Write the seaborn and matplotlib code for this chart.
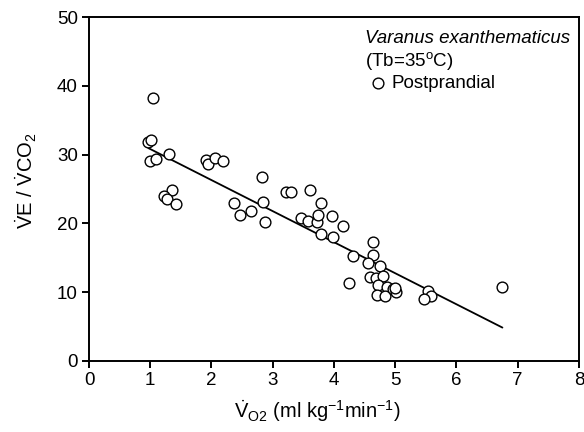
import numpy as np
import pandas as pd
import matplotlib
matplotlib.use("Agg")
import matplotlib.pyplot as plt
import seaborn as sns

# V_O2 (ml kg-1 min-1) and VE/VCO2, postprandial
vo2 = [1.05, 0.97, 1.02, 1.00, 1.10, 1.30, 1.35, 1.22, 1.28, 1.42,
       1.91, 1.95, 2.05, 2.19, 2.36, 2.47, 2.65, 2.82, 2.84, 2.88,
       3.22, 3.29, 3.61, 3.46, 3.58, 3.72, 3.74, 3.79, 3.97, 3.79,
       3.99, 4.15, 4.31, 4.25, 4.63, 4.63, 4.56, 4.59, 4.68, 4.75,
       4.80, 4.72, 4.70, 4.86, 4.83, 4.97, 5.01, 5.00, 5.54, 5.59,
       5.47, 6.75]
ve_vco2 = [38.3, 31.9, 32.1, 29.0, 29.3, 30.1, 24.9, 24.0, 23.5, 22.8,
           29.2, 28.7, 29.5, 29.1, 22.9, 21.2, 21.8, 26.8, 23.1, 20.2,
           24.5, 24.5, 24.8, 20.8, 20.4, 20.2, 21.2, 22.9, 21.1, 18.4,
           18.0, 19.6, 15.2, 11.3, 17.3, 15.4, 14.3, 12.2, 12.0, 13.8,
           12.4, 11.0, 9.6, 10.8, 9.4, 10.4, 10.0, 10.6, 10.2, 9.4,
           9.0, 10.7]

df = pd.DataFrame({"vo2": vo2, "ratio": ve_vco2})

sns.set_style("ticks")
plt.rcParams["font.family"] = ["Liberation Sans", "DejaVu Sans"]
plt.rcParams["mathtext.fontset"] = "custom"
plt.rcParams["mathtext.rm"] = "Liberation Sans"
plt.rcParams["mathtext.it"] = "Liberation Sans:italic"
plt.rcParams["text.color"] = "black"
plt.rcParams["axes.labelcolor"] = "black"

fs = 13.5
lfs = 14.5

fig = plt.figure(figsize=(5.84, 4.32), dpi=100)
ax = fig.add_axes([0.1524, 0.1644, 0.8390, 0.7962])

sns.regplot(data=df, x="vo2", y="ratio", ax=ax, ci=None, truncate=True,
            scatter=False, line_kws=dict(color="black", lw=1.3))
sns.scatterplot(data=df, x="vo2", y="ratio", ax=ax, s=60, color="white",
                edgecolor="black", linewidth=1.0, zorder=3, label="Postprandial")

ax.set_xlim(0, 8)
ax.set_ylim(0, 50)
ax.set_xticks(range(0, 9))
ax.set_yticks(range(0, 51, 10))
for s in ax.spines.values():
    s.set_linewidth(1.4)
    s.set_color("black")
ax.tick_params(direction="out", length=5, width=1.4, labelsize=fs, colors="black", pad=3)

ax.set_xlabel(r"$\dot{\mathrm{V}}_{\mathrm{O2}}$ (ml kg$^{-1}$min$^{-1}$)", fontsize=lfs)
ax.set_ylabel(r"$\dot{\mathrm{V}}\mathrm{E}\ /\ \dot{\mathrm{V}}\mathrm{CO}_2$", fontsize=lfs)
ax.xaxis.set_label_coords(0.467, -0.108)
ax.yaxis.set_label_coords(-0.102, 0.523)

ax.text(0.563, 0.939, "Varanus exanthematicus", transform=ax.transAxes,
        style="italic", fontsize=fs, va="center", ha="left")
ax.text(0.563, 0.872, r"(Tb=35$^{\mathrm{o}}$C)", transform=ax.transAxes,
        fontsize=fs, va="center", ha="left")
ax.legend(loc="upper left", bbox_to_anchor=(0.555, 0.855), frameon=False,
          fontsize=fs, handlelength=1, handletextpad=0.25, borderaxespad=0,
          labelcolor="black")

fig.savefig("out.png", dpi=100)
